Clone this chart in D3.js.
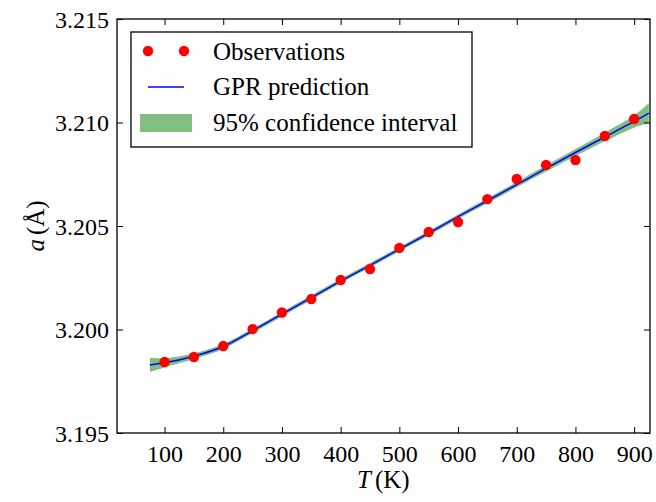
<!DOCTYPE html>
<html>
<head>
<meta charset="utf-8">
<script src="https://cdn.jsdelivr.net/npm/d3@7"></script>
<style>
  body { margin: 0; background: #fff; }
  svg text { font-family: "Liberation Serif", "DejaVu Serif", serif; fill: #000; }
</style>
</head>
<body>
<svg id="chart"></svg>
<script>
// observations (T in K, lattice parameter a in Angstrom)
const obsT = [100, 150, 200, 250, 300, 350, 400, 450, 500, 550, 600, 650, 700, 750, 800, 850, 900];
const obsA = [3.19843, 3.19867, 3.19920, 3.20002, 3.20082, 3.20147, 3.20239, 3.20292, 3.20394,
              3.20471, 3.20519, 3.20630, 3.20727, 3.20795, 3.20819, 3.20935, 3.21017];

// GPR mean and half width of 95% band
const predT = [75, 100, 150, 200, 250, 300, 350, 400, 450, 500, 550, 600, 650, 700, 750, 800, 850, 900, 925];
const predA = [3.19829, 3.19839, 3.19871, 3.19918, 3.19994, 3.20074, 3.20154, 3.20234, 3.20310, 3.20388,
               3.20465, 3.20545, 3.20622, 3.20700, 3.20778, 3.20855, 3.20930, 3.21005, 3.21045];
const halfBand = [0.00034, 0.00022, 0.00014, 0.00012, 0.00011, 0.00011, 0.00011, 0.00011, 0.00011, 0.00011,
                  0.00011, 0.00011, 0.00012, 0.00013, 0.00015, 0.00017, 0.00021, 0.00030, 0.00048];

const xTicks = [100, 200, 300, 400, 500, 600, 700, 800, 900];
const yTicks = [3.195, 3.200, 3.205, 3.210, 3.215];

const W = 656, H = 502;
const margin = { top: 19, right: 6, bottom: 69, left: 117 };
const width = W - margin.left - margin.right;
const height = H - margin.top - margin.bottom;

const svg = d3.select('#chart').attr('width', W).attr('height', H);
const g = svg.append('g').attr('transform', `translate(${margin.left},${margin.top})`);

const x = d3.scaleLinear().domain([19, 927]).range([0, width]);
const y = d3.scaleLinear().domain([3.195, 3.215]).range([height, 0]);

const pred = predT.map((t, i) => ({ t, a: predA[i], h: halfBand[i] }));
const obs = obsT.map((t, i) => ({ t, a: obsA[i] }));

// confidence band
g.append('path')
    .datum(pred)
    .attr('fill', '#80bf80')
    .attr('d', d3.area()
        .curve(d3.curveCatmullRom)
        .x(d => x(d.t))
        .y0(d => y(d.a - d.h))
        .y1(d => y(d.a + d.h)));

// prediction line
g.append('path')
    .datum(pred)
    .attr('fill', 'none')
    .attr('stroke', '#0000ff')
    .attr('stroke-width', 1.5)
    .attr('d', d3.line()
        .curve(d3.curveCatmullRom)
        .x(d => x(d.t))
        .y(d => y(d.a)));

g.selectAll('.obs')
    .data(obs)
    .enter()
    .append('circle')
    .attr('class', 'obs')
    .attr('cx', d => x(d.t))
    .attr('cy', d => y(d.a))
    .attr('r', 5.2)
    .attr('fill', '#ff0000');

// axes, ticks inside on all four sides
const tickLen = 6;
const fs = 24;

const xb = g.append('g').attr('transform', `translate(0,${height})`)
    .call(d3.axisBottom(x).tickValues(xTicks).tickSizeInner(-tickLen).tickSizeOuter(0).tickPadding(12));
const xt = g.append('g')
    .call(d3.axisTop(x).tickValues(xTicks).tickSizeInner(-tickLen).tickSizeOuter(0).tickFormat(''));
const yl = g.append('g')
    .call(d3.axisLeft(y).tickValues(yTicks).tickSizeInner(-tickLen).tickSizeOuter(0).tickPadding(8).tickFormat(d3.format('.3f')));
const yr = g.append('g').attr('transform', `translate(${width},0)`)
    .call(d3.axisRight(y).tickValues(yTicks).tickSizeInner(-tickLen).tickSizeOuter(0).tickFormat(''));

[xb, xt, yl, yr].forEach(a => {
    a.select('.domain').remove();
    a.selectAll('line').attr('stroke', '#000').attr('stroke-width', 1);
    a.selectAll('text').style('font-size', fs + 'px').style('font-family', '"Liberation Serif", serif');
});
yl.selectAll('text').attr('dy', '0.35em');

g.append('rect')
    .attr('width', width).attr('height', height)
    .attr('fill', 'none').attr('stroke', '#000').attr('stroke-width', 1.3);

// axis labels
svg.append('text')
    .attr('x', margin.left + x(500) - 16)
    .attr('y', 488)
    .attr('text-anchor', 'middle')
    .style('font-size', '25px')
    .html('<tspan font-style="italic">T</tspan><tspan dx="4">(K)</tspan>');

svg.append('text')
    .attr('transform', `translate(44,${margin.top + y(3.205)}) rotate(-90)`)
    .attr('text-anchor', 'middle')
    .style('font-size', '25px')
    .html('<tspan font-style="italic">a</tspan><tspan dx="4">(Å)</tspan>');

// legend
const lg = svg.append('g').attr('transform', 'translate(131,32)');
lg.append('rect')
    .attr('width', 341).attr('height', 115)
    .attr('fill', '#fff').attr('stroke', '#000').attr('stroke-width', 1.3);

lg.selectAll('.ldot')
    .data([17, 53])
    .enter()
    .append('circle')
    .attr('cx', d => d).attr('cy', 19).attr('r', 5.2).attr('fill', '#ff0000');
lg.append('line')
    .attr('x1', 17).attr('x2', 53).attr('y1', 55).attr('y2', 55)
    .attr('stroke', '#0000ff').attr('stroke-width', 1.5);
lg.append('rect')
    .attr('x', 9).attr('y', 82).attr('width', 52).attr('height', 18)
    .attr('fill', '#80bf80');

const legendLabels = ['Observations', 'GPR prediction', '95% confidence interval'];
lg.selectAll('.ltext')
    .data(legendLabels)
    .enter()
    .append('text')
    .attr('x', 82)
    .attr('y', (d, i) => [28, 63, 99][i])
    .style('font-size', '25px')
    .text(d => d);
</script>
</body>
</html>
